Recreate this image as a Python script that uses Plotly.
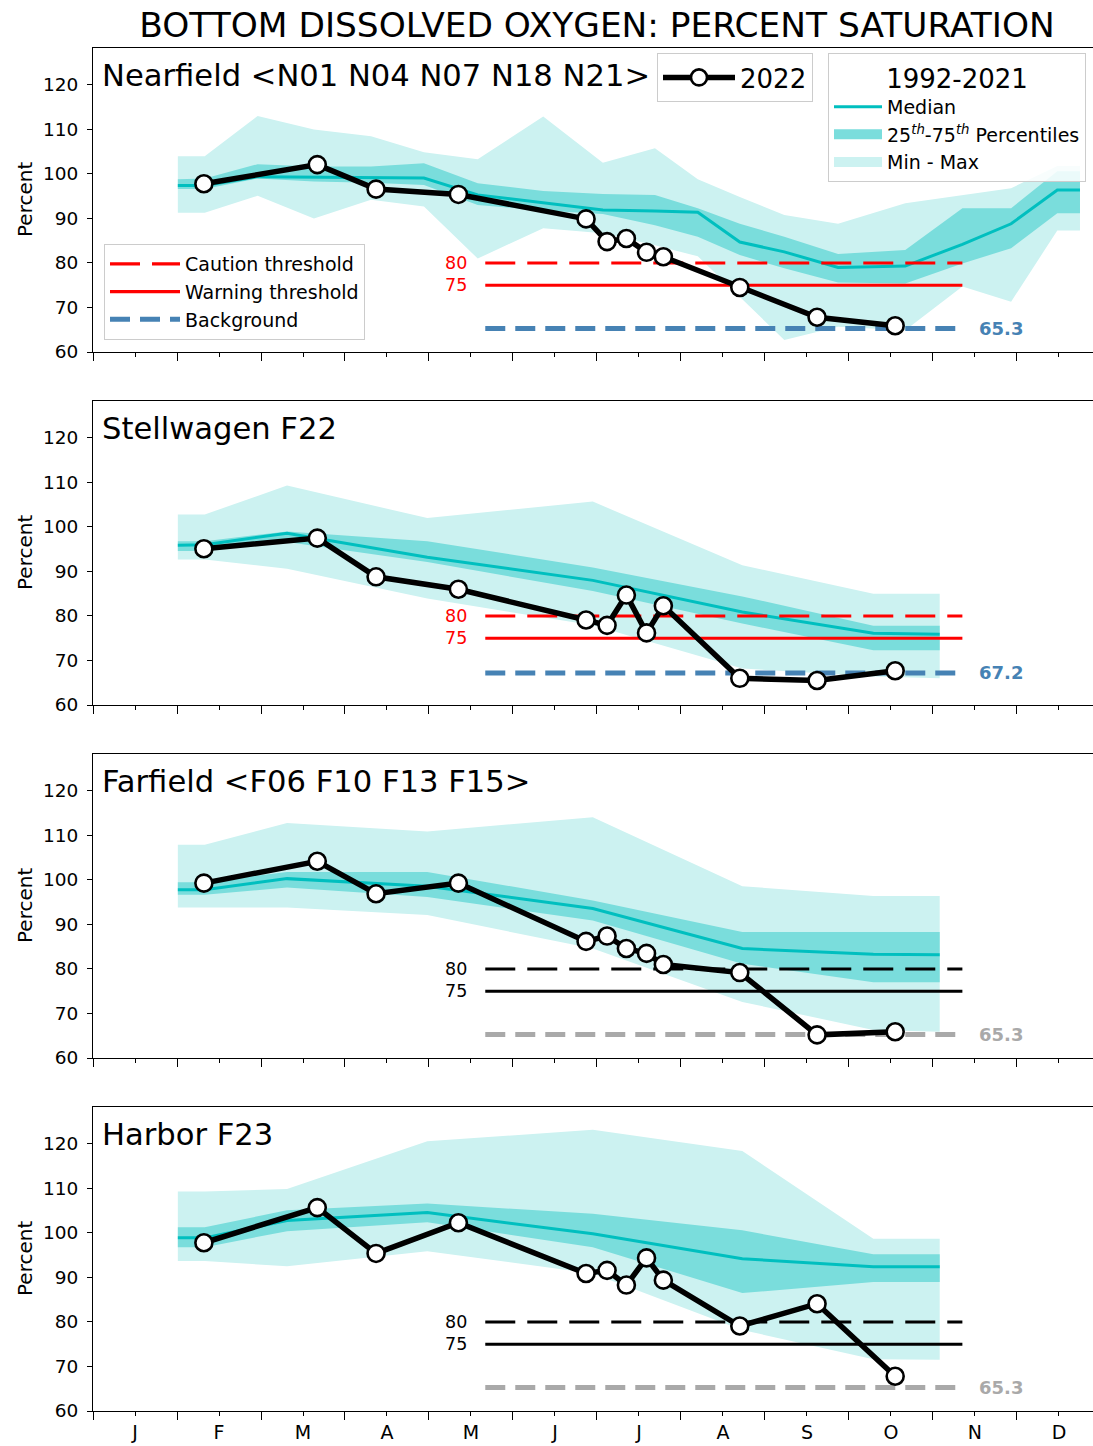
import plotly.graph_objects as go

FONT = "DejaVu Sans"

MONTH_LABELS = ["J", "F", "M", "A", "M", "J", "J", "A", "S", "O", "N", "D"]

# 2022 survey times (fractional months from 1 Jan)
SURVEY_X = [1.32, 2.67, 3.37, 4.35, 5.87, 6.12, 6.35, 6.59, 6.79, 7.70, 8.62, 9.55]

NEAR_2022 = [97.8, 102.1, 96.6, 95.4, 89.9, 84.8, 85.5, 82.4, 81.4, 74.5, 67.8, 65.9]
STELL_2022 = [95.1, 97.5, 88.8, 86.0, 79.1, 77.9, 84.7, 76.2, 82.3, 66.0, 65.5, 67.7]
FAR_2022 = [99.3, 104.2, 96.9, 99.3, 86.2, 87.4, 84.6, 83.5, 81.0, 79.2, 65.2, 65.9]
HARB_2022 = [97.8, 105.7, 95.4, 102.3, 90.9, 91.6, 88.3, 94.4, 89.4, 79.1, 84.1, 67.8]

# 1992-2021 climatology, nearfield
NEAR_CX = [1.01, 1.33, 1.96, 2.63, 3.31, 3.94, 4.58, 5.36, 6.07, 6.69, 7.20, 7.70,
           8.23, 8.87, 9.67, 10.35, 10.93, 11.48, 11.75]
NEAR_MED = [97.4, 97.4, 99.4, 99.3, 99.1, 99.1, 95.3, 93.6, 91.9, 91.7, 91.4, 84.7,
            82.5, 79.0, 79.3, 84.2, 88.8, 96.4, 96.4]
NEAR_P75 = [98.8, 99.0, 102.2, 101.7, 101.7, 102.4, 97.9, 96.2, 95.5, 95.3, 92.3, 88.8,
            85.9, 82.0, 82.9, 92.3, 92.3, 100.6, 100.6]
NEAR_P25 = [96.6, 96.6, 99.0, 98.3, 98.0, 97.5, 93.0, 91.8, 91.0, 88.5, 85.9, 81.8,
            78.8, 75.6, 75.4, 79.9, 83.3, 91.2, 91.2]
NEAR_MAX = [104.0, 104.0, 113.0, 110.0, 108.5, 104.9, 103.3, 112.9, 102.5, 105.8, 98.8, 94.8,
            90.8, 88.8, 93.4, 95.3, 96.8, 101.8, 101.8]
NEAR_MIN = [91.3, 91.3, 95.1, 90.0, 94.2, 92.7, 81.0, 87.8, 86.7, 84.0, 81.5, 72.4,
            62.7, 65.7, 64.9, 74.7, 71.3, 87.3, 87.3]

# climatology x for single stations / farfield
STN_CX = [1.01, 1.33, 2.31, 3.98, 5.95, 7.73, 9.29, 10.08]

STELL_MED = [95.9, 96.0, 98.6, 93.2, 88.0, 80.9, 76.1, 75.9]
STELL_P75 = [96.8, 96.8, 99.0, 96.8, 90.9, 84.4, 77.8, 77.8]
STELL_P25 = [94.6, 94.6, 96.6, 92.1, 85.6, 78.3, 72.3, 72.3]
STELL_MAX = [102.8, 102.8, 109.3, 102.0, 105.7, 91.4, 85.0, 85.0]
STELL_MIN = [92.7, 92.7, 90.6, 83.9, 77.9, 68.2, 66.4, 66.0]

FAR_MED = [97.8, 97.8, 100.3, 98.6, 93.6, 84.6, 83.3, 83.2]
FAR_P75 = [99.5, 99.5, 101.8, 101.8, 95.4, 88.3, 88.3, 88.3]
FAR_P25 = [96.7, 96.7, 98.3, 96.2, 90.9, 81.2, 77.0, 77.0]
FAR_MAX = [107.9, 107.9, 112.8, 110.9, 114.1, 98.6, 96.4, 96.4]
FAR_MIN = [93.8, 93.8, 93.8, 92.1, 84.6, 72.6, 66.3, 65.9]

HARB_MED = [98.9, 98.9, 102.8, 104.6, 99.8, 94.2, 92.4, 92.4]
HARB_P75 = [101.3, 101.3, 105.1, 106.6, 104.3, 100.6, 95.2, 95.2]
HARB_P25 = [96.8, 96.8, 100.4, 102.4, 96.8, 86.5, 89.0, 89.0]
HARB_MAX = [109.3, 109.3, 109.9, 120.6, 123.2, 118.4, 98.7, 98.7]
HARB_MIN = [93.7, 93.7, 92.5, 95.9, 90.9, 78.2, 71.6, 71.5]

# thresholds
THRESH_X = [4.67, 10.35]
CAUTION = 80
WARNING = 75
BACKGROUND = [65.3, 67.2, 65.3, 65.3]

PANEL_TITLES = ["Nearfield &lt;N01 N04 N07 N18 N21&gt;", "Stellwagen F22",
                "Farfield &lt;F06 F10 F13 F15&gt;", "Harbor F23"]

PANELS = [
    (NEAR_CX, NEAR_MED, NEAR_P25, NEAR_P75, NEAR_MIN, NEAR_MAX, NEAR_2022),
    (STN_CX, STELL_MED, STELL_P25, STELL_P75, STELL_MIN, STELL_MAX, STELL_2022),
    (STN_CX, FAR_MED, FAR_P25, FAR_P75, FAR_MIN, FAR_MAX, FAR_2022),
    (STN_CX, HARB_MED, HARB_P25, HARB_P75, HARB_MIN, HARB_MAX, HARB_2022),
]

THRESH_COLORS = ["#ff0000", "#ff0000", "#000000", "#000000"]
BG_COLORS = ["#4682b4", "#4682b4", "#a9a9a9", "#a9a9a9"]

LIGHT = "rgb(204,242,241)"
DARK = "rgb(122,221,220)"
MEDC = "#00bfbf"

W, H = 1093, 1446
PANEL_PX = [(48, 352), (401, 705), (754, 1058), (1107, 1411)]

fig = go.Figure()
annotations = []
layout_axes = {}

for i, (cx, med, p25, p75, mn, mx, obs) in enumerate(PANELS):
    n = "" if i == 0 else str(i + 1)
    xa, ya = "x" + n, "y" + n
    show = i == 0
    fig.add_trace(go.Scatter(
        x=cx + cx[::-1], y=mx + mn[::-1], fill="toself", fillcolor=LIGHT,
        line=dict(width=0), mode="lines", xaxis=xa, yaxis=ya,
        name="Min - Max", showlegend=False, hoverinfo="skip"))
    fig.add_trace(go.Scatter(
        x=cx + cx[::-1], y=p75 + p25[::-1], fill="toself", fillcolor=DARK,
        line=dict(width=0), mode="lines", xaxis=xa, yaxis=ya,
        name="25-75 Percentiles", showlegend=False, hoverinfo="skip"))
    fig.add_trace(go.Scatter(
        x=cx, y=med, mode="lines", line=dict(color=MEDC, width=3),
        xaxis=xa, yaxis=ya, name="Median", legend="legend2", legendrank=1,
        showlegend=show))
    tc = THRESH_COLORS[i]
    fig.add_trace(go.Scatter(
        x=THRESH_X, y=[CAUTION, CAUTION], mode="lines",
        line=dict(color=tc, width=3.2, dash="30px,12px"),
        xaxis=xa, yaxis=ya, name="Caution threshold", legend="legend3",
        legendrank=1, showlegend=show))
    fig.add_trace(go.Scatter(
        x=THRESH_X, y=[WARNING, WARNING], mode="lines",
        line=dict(color=tc, width=3.2 if i < 2 else 2.8),
        xaxis=xa, yaxis=ya, name="Warning threshold", legend="legend3",
        legendrank=2, showlegend=show))
    bg = BACKGROUND[i]
    fig.add_trace(go.Scatter(
        x=THRESH_X, y=[bg, bg], mode="lines",
        line=dict(color=BG_COLORS[i], width=5, dash="20px,10px"),
        xaxis=xa, yaxis=ya, name="Background", legend="legend3",
        legendrank=3, showlegend=show))
    fig.add_trace(go.Scatter(
        x=SURVEY_X, y=obs, mode="lines+markers",
        line=dict(color="black", width=5.5),
        marker=dict(size=17, color="white", line=dict(color="black", width=2.6)),
        xaxis=xa, yaxis=ya, name="2022", legend="legend", showlegend=show))

    # threshold labels
    for val in (CAUTION, WARNING):
        annotations.append(dict(
            x=THRESH_X[0], y=val, xref=xa, yref=ya, text=str(val),
            showarrow=False, xanchor="right", yanchor="middle", xshift=-16,
            font=dict(family=FONT, size=17.5, color=tc)))
    annotations.append(dict(
        x=THRESH_X[1], y=bg, xref=xa, yref=ya, text="<b>%.1f</b>" % bg,
        showarrow=False, xanchor="left", yanchor="middle", xshift=15,
        font=dict(family=FONT, size=18, color=BG_COLORS[i])))
    # panel title
    annotations.append(dict(
        x=0.007, y=0.911, xref="paper", yref=ya + " domain", text=PANEL_TITLES[i],
        showarrow=False, xanchor="left", yanchor="middle",
        font=dict(family=FONT, size=30.6, color="black")))
    # y label
    annotations.append(dict(
        x=-0.068, y=0.5, xref="paper", yref=ya + " domain", text="Percent",
        showarrow=False, xanchor="center", yanchor="middle", textangle=-90,
        font=dict(family=FONT, size=20, color="black")))

    top, bot = PANEL_PX[i]
    ydom = [1 - bot / H, 1 - top / H]
    xkey = "xaxis" + n
    ykey = "yaxis" + n
    layout_axes[xkey] = dict(
        domain=[0, 1], anchor=ya, range=[0, 11.905],
        tickmode="array", tickvals=[m + 0.5 for m in range(12)],
        ticktext=MONTH_LABELS, showticklabels=(i == 3),
        ticks="outside", ticklen=4, tickwidth=1.2, tickcolor="black",
        minor=dict(tickmode="array", tickvals=list(range(13)), ticks="outside",
                   ticklen=8, tickwidth=1.2, tickcolor="black", showgrid=False),
        showline=True, linecolor="black", linewidth=1.2, mirror=True,
        showgrid=False, zeroline=False, automargin=False,
        tickfont=dict(family=FONT, size=19, color="black"))
    layout_axes[ykey] = dict(
        domain=ydom, anchor=xa, range=[60, 128.3],
        tickmode="array", tickvals=[60, 70, 80, 90, 100, 110, 120],
        ticks="outside", ticklen=5, tickwidth=1.2, tickcolor="black",
        ticklabelstandoff=5,
        showline=True, linecolor="black", linewidth=1.2, mirror=False,
        showgrid=False, zeroline=False, automargin=False,
        tickfont=dict(family=FONT, size=18.5, color="black"))

# legend-only patches for the percentile bands (no data drawn)
fig.add_trace(go.Scatter(
    x=[None], y=[None], mode="lines", line=dict(color=DARK, width=16),
    name="25<sup><i>th</i></sup>-75<sup><i>th</i></sup> Percentiles",
    legend="legend2", legendrank=2, showlegend=True))
fig.add_trace(go.Scatter(
    x=[None], y=[None], mode="lines", line=dict(color=LIGHT, width=16),
    name="Min - Max", legend="legend2", legendrank=3, showlegend=True))

legend_common = dict(bgcolor="rgba(255,255,255,0.85)", bordercolor="#cccccc",
                     borderwidth=1, xanchor="left", yanchor="top",
                     traceorder="normal")

fig.update_layout(
    width=W, height=H,
    margin=dict(l=93, r=0, t=0, b=0, autoexpand=False),
    paper_bgcolor="white", plot_bgcolor="white",
    font=dict(family=FONT, color="black"),
    title=dict(text="BOTTOM DISSOLVED OXYGEN: PERCENT SATURATION",
               x=0.504, xref="paper", xanchor="center",
               y=1 - 25 / H, yref="container", yanchor="middle",
               font=dict(family=FONT, size=34.4, color="black")),
    annotations=annotations,
    showlegend=True,
    legend=dict(x=0.564, y=1 - 53 / H, font=dict(family=FONT, size=26),
                itemwidth=72, **legend_common),
    legend2=dict(x=0.735, y=1 - 53 / H, font=dict(family=FONT, size=19),
                 itemwidth=48,
                 title=dict(text="1992-2021", side="top center",
                            font=dict(family=FONT, size=26)),
                 **legend_common),
    legend3=dict(x=0.011, y=1 - 244 / H, font=dict(family=FONT, size=19),
                 itemwidth=70, **legend_common),
    **layout_axes,
)

fig.write_html("out.html")
